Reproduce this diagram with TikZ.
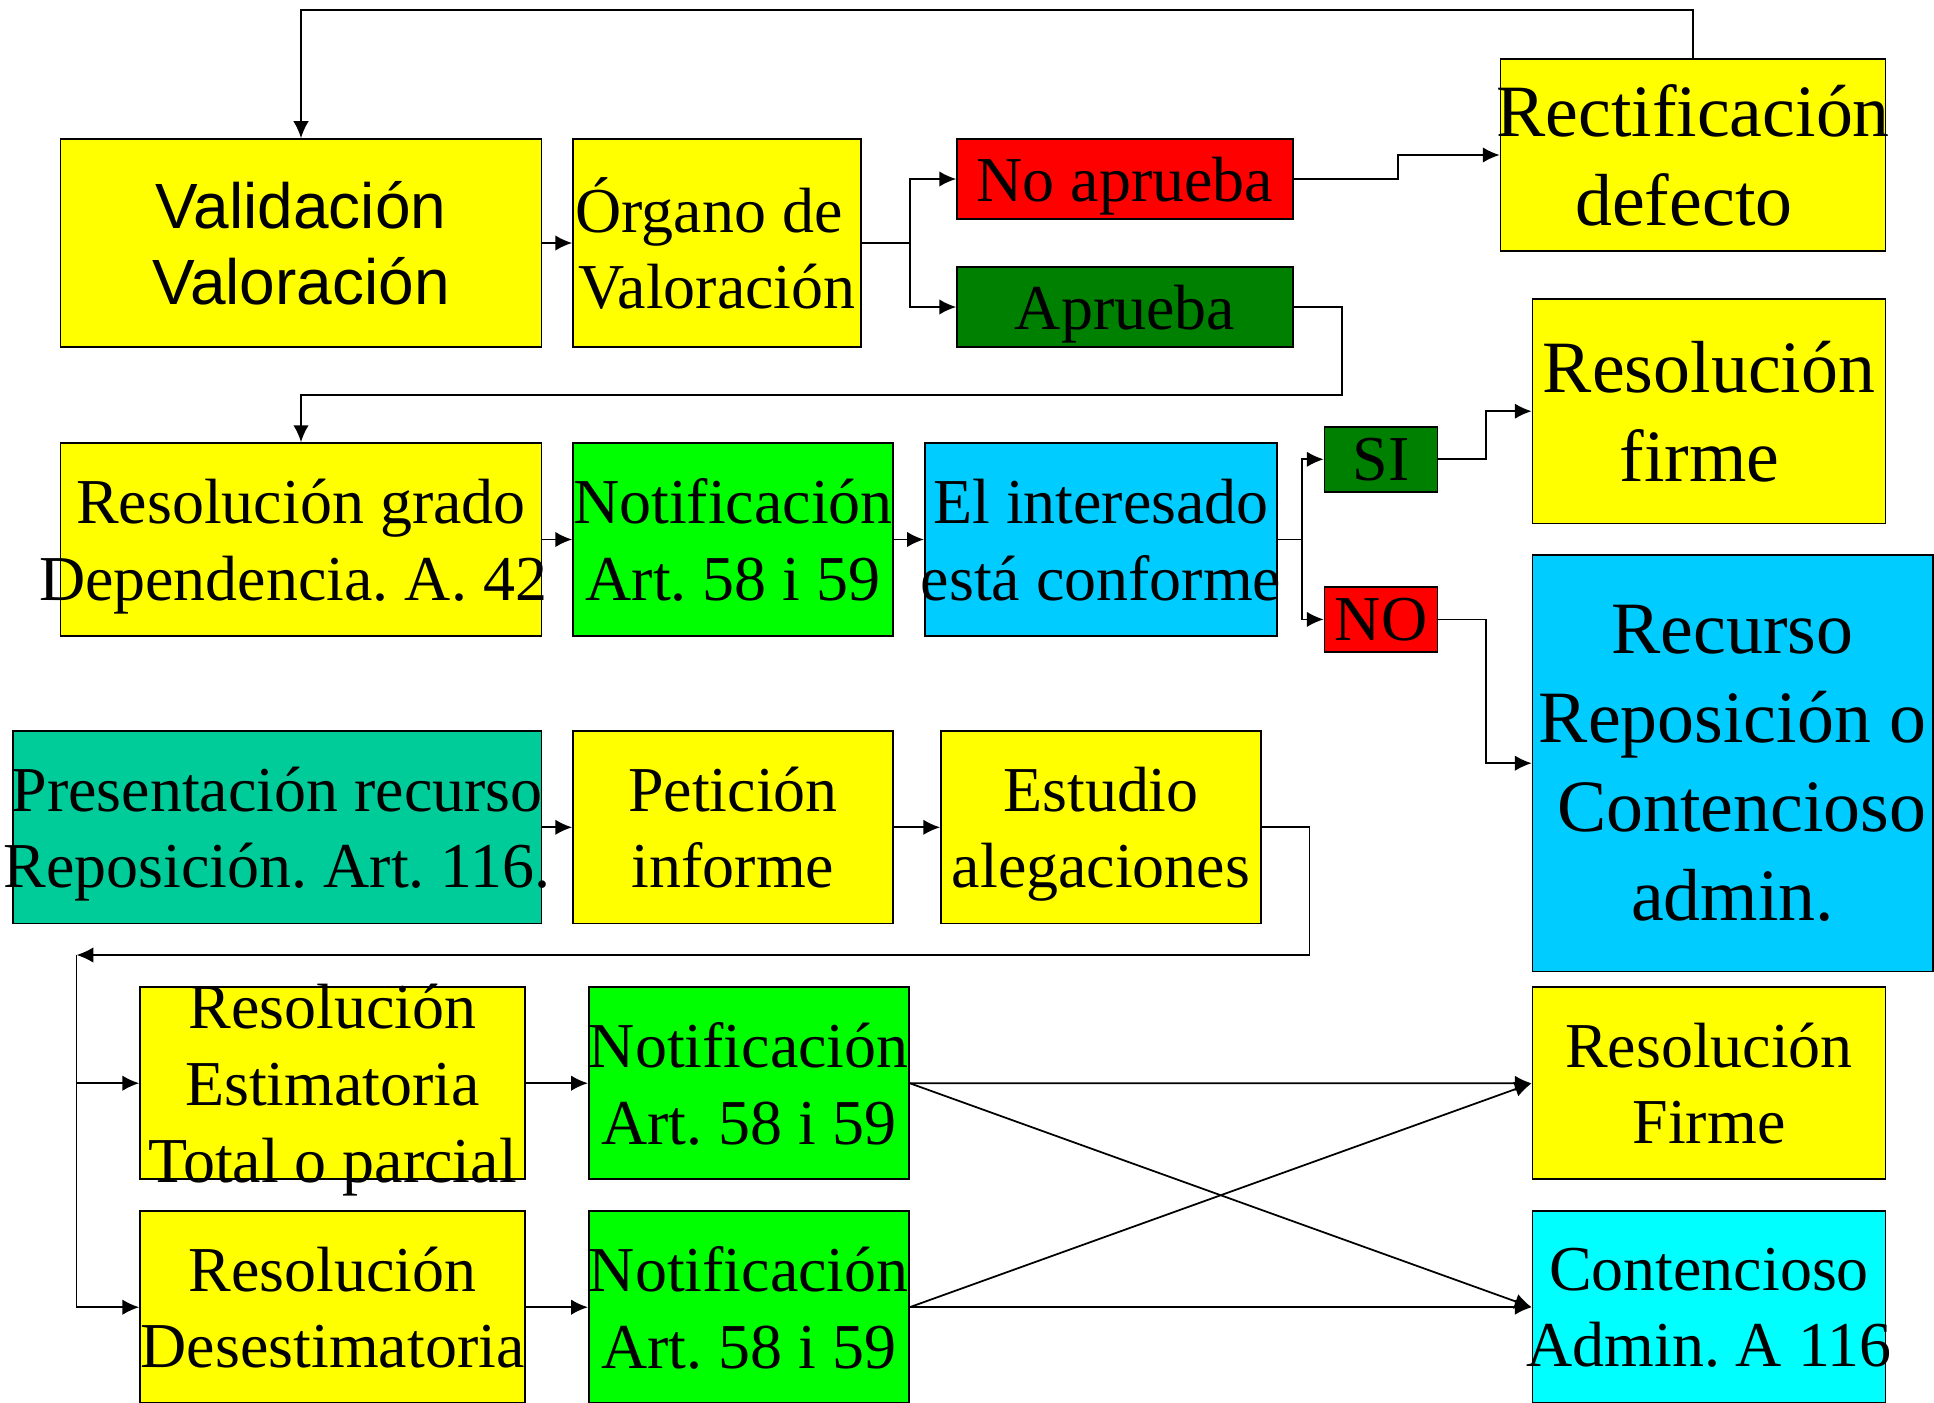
\documentclass[tikz,border=0pt]{standalone}
\usepackage{fontspec}
\setmainfont{Liberation Serif}
\newfontfamily\arialfont{Liberation Sans}
\usetikzlibrary{arrows.meta}
\definecolor{amarillo}{HTML}{FFFF00}
\definecolor{rojo}{HTML}{FF0000}
\definecolor{verdeosc}{HTML}{008000}
\definecolor{verde}{HTML}{00FF00}
\definecolor{celeste}{HTML}{00CCFF}
\definecolor{turquesa}{HTML}{00CC99}
\definecolor{cian}{HTML}{00FFFF}
\frenchspacing

\begin{document}
\begin{tikzpicture}
    \tikzset{box/.style = {shape=rectangle,draw,line width=0.5pt,inner sep=0pt}}
    \tikzset{txt/.style = {align=center,inner sep=0pt,text depth=0pt,font=\fontsize{18.2}{21.8}\selectfont}}
    \tikzset{bigtxt/.style = {align=center,inner sep=0pt,text depth=0pt,font=\fontsize{21}{25.3}\selectfont}}
    \tikzset{edge/.style = {-{Latex[length=4.8pt,width=4.4pt]},line width=0.5pt}}
    \useasboundingbox (0,0) rectangle (19.34,-14.03);

    % boxes
    \node[box,fill=amarillo,minimum width=4.81cm,minimum height=2.08cm] (val) at (3.01,-2.43) {};
    \node[box,fill=amarillo,minimum width=2.88cm,minimum height=2.08cm] (org) at (7.17,-2.43) {};
    \node[box,fill=rojo,minimum width=3.36cm,minimum height=0.80cm] (noap) at (11.25,-1.79) {};
    \node[box,fill=verdeosc,minimum width=3.36cm,minimum height=0.80cm] (ap) at (11.25,-3.07) {};
    \node[box,fill=amarillo,minimum width=3.85cm,minimum height=1.92cm] (rect) at (16.93,-1.55) {};
    \node[box,fill=amarillo,minimum width=4.81cm,minimum height=1.93cm] (resg) at (3.01,-5.395) {};
    \node[box,fill=verde,minimum width=3.20cm,minimum height=1.93cm] (not1) at (7.33,-5.395) {};
    \node[box,fill=celeste,minimum width=3.525cm,minimum height=1.93cm] (int) at (11.01,-5.395) {};
    \node[box,fill=verdeosc,minimum width=1.13cm,minimum height=0.65cm] (si) at (13.81,-4.593) {};
    \node[box,fill=rojo,minimum width=1.13cm,minimum height=0.65cm] (no) at (13.81,-6.194) {};
    \node[box,fill=amarillo,minimum width=3.53cm,minimum height=2.245cm] (firme) at (17.09,-4.112) {};
    \node[box,fill=celeste,minimum width=4.00cm,minimum height=4.164cm] (recurso) at (17.326,-7.632) {};
    \node[box,fill=turquesa,minimum width=5.287cm,minimum height=1.926cm] (pres) at (2.772,-8.273) {};
    \node[box,fill=amarillo,minimum width=3.20cm,minimum height=1.926cm] (pet) at (7.33,-8.273) {};
    \node[box,fill=amarillo,minimum width=3.20cm,minimum height=1.926cm] (est) at (11.01,-8.273) {};
    \node[box,fill=amarillo,minimum width=3.85cm,minimum height=1.923cm] (esti) at (3.326,-10.832) {};
    \node[box,fill=verde,minimum width=3.20cm,minimum height=1.923cm] (not2) at (7.488,-10.832) {};
    \node[box,fill=amarillo,minimum width=3.85cm,minimum height=1.923cm] (dese) at (3.326,-13.072) {};
    \node[box,fill=verde,minimum width=3.20cm,minimum height=1.923cm] (not3) at (7.488,-13.072) {};
    \node[box,fill=amarillo,minimum width=3.53cm,minimum height=1.92cm] (rf2) at (17.09,-10.833) {};
    \node[box,fill=cian,minimum width=3.53cm,minimum height=1.923cm] (cont) at (17.09,-13.072) {};

    % texts
    \node[txt,font=\arialfont\fontsize{18.2}{21.8}\selectfont] (val-t) at (val) {Validación\\Valoración};
    \node[txt] (org-t) at (org) {Órgano de\hspace*{.25em}\\Valoración};
    \node[txt] (noap-t) at (noap) {No aprueba};
    \node[txt] (ap-t) at (ap) {Aprueba};
    \node[bigtxt] (rect-t) at (rect) {Rectificación\\defecto\hspace*{.25em}};
    \node[txt] (resg-t) at (resg) {Resolución grado\\Dependencia. A. 42\hspace*{.25em}};
    \node[txt] (not1-t) at (not1) {Notificación\\Art. 58 i 59};
    \node[txt] (int-t) at (int) {El interesado\\está conforme};
    \node[txt] (si-t) at (si) {SI};
    \node[txt] (no-t) at (no) {NO};
    \node[bigtxt] (firme-t) at (firme) {Resolución\\firme\hspace*{.25em}};
    \node[bigtxt] (recurso-t) at (recurso) {Recurso\\Reposición o\hspace*{.25em}\\\hspace*{.25em}Contencioso\\admin.};
    \node[txt] (pres-t) at (pres) {Presentación recurso\\Reposición. Art. 116.};
    \node[txt] (pet-t) at (pet) {Petición\\informe};
    \node[txt] (est-t) at (est) {Estudio\\alegaciones};
    \node[txt] (esti-t) at (esti) {Resolución\\Estimatoria\\Total o parcial};
    \node[txt] (not2-t) at (not2) {Notificación\\Art. 58 i 59};
    \node[txt] (dese-t) at (dese) {Resolución\\Desestimatoria};
    \node[txt] (not3-t) at (not3) {Notificación\\Art. 58 i 59};
    \node[txt] (rf2-t) at (rf2) {Resolución\\Firme};
    \node[txt] (cont-t) at (cont) {Contencioso\\Admin. A 116};

    \coordinate (back) at (0.765,-9.55);

    %edges
    \draw[edge] (rect.north) -- ++(0,0.48) -| (val.north);
    \draw[edge] (val) -- (org);
    \draw[edge] (org.east) -- ++(0.48,0) |- (noap.west);
    \draw[edge] (org.east) -- ++(0.48,0) |- (ap.west);
    \draw[edge] (noap.east) -- ++(1.04,0) |- (rect.west);
    \draw[edge] (ap.east) -- ++(0.48,0) -- ++(0,-0.88) -| (resg.north);
    \draw[edge] (resg) -- (not1);
    \draw[edge] (not1) -- (int);
    \draw[edge] (int.east) -- ++(0.24,0) |- (si.west);
    \draw[edge] (int.east) -- ++(0.24,0) |- (no.west);
    \draw[edge] (si.east) -- ++(0.475,0) |- (firme.west);
    \draw[edge] (no.east) -- ++(0.475,0) |- (recurso.west);
    \draw[edge] (pres) -- (pet);
    \draw[edge] (pet) -- (est);
    \draw[edge] (est.east) -- ++(0.475,0) |- (back);
    \draw[edge] (back) |- (esti.west);
    \draw[edge] (back) |- (dese.west);
    \draw[edge] (esti) -- (not2);
    \draw[edge] (dese) -- (not3);
    \draw[edge] (not2.east) -- (rf2.west);
    \draw[edge] (not2.east) -- (cont.west);
    \draw[edge] (not3.east) -- (rf2.west);
    \draw[edge] (not3.east) -- (cont.west);
\end{tikzpicture}
\end{document}
